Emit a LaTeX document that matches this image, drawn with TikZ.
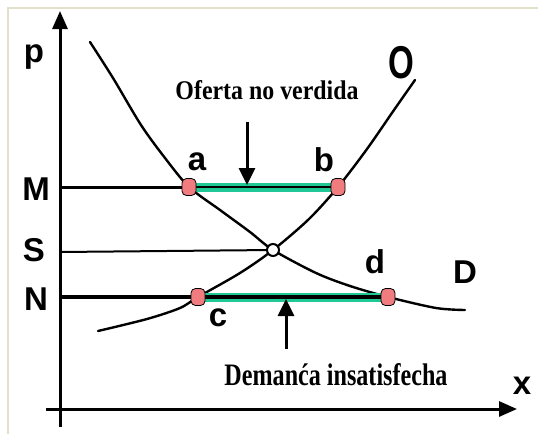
\documentclass[tikz,border=0pt]{standalone}
\usepackage{fontspec}
\setmainfont{Liberation Serif}
\setsansfont{Liberation Sans}
\usetikzlibrary{arrows.meta}
\definecolor{frameC}{RGB}{226,223,202}
\definecolor{barG}{RGB}{32,200,150}
\definecolor{ptPink}{RGB}{240,124,128}
\tikzset{
  axis/.style={line width=3pt,-{Triangle[length=18pt,width=15pt]}},
  curve/.style={line width=2.4pt,line join=round,line cap=round},
  level/.style={line width=3pt},
  gbar/.style={line width=9pt,barG},
  kbar/.style={line width=2.5pt,black},
  marker/.style={draw=black,line width=0.8pt,fill=ptPink,rounded corners=4.5pt,minimum width=14pt,minimum height=17pt,inner sep=0pt},
  eqpt/.style={circle,draw=black,line width=2pt,fill=white,minimum size=12pt,inner sep=0pt},
  lab/.style={font=\sffamily\bfseries\fontsize{33}{33}\selectfont,inner sep=0pt},
  pointer/.style={line width=3pt,-{Triangle[length=17pt,width=16pt]}},
}
\begin{document}
\begin{tikzpicture}[x=1pt,y=-1pt]
\useasboundingbox (0,0) rectangle (538,434);
\fill[white] (0,0) rectangle (538,434);
\draw[frameC,line width=2pt] (7.5,434) -- (7.5,7.5) -- (538,7.5);

% axes
\coordinate (ybot) at (60,427);
\coordinate (ytop) at (60,11);
\coordinate (xleft) at (46,409);
\coordinate (xright) at (517,409);
\draw[axis] (ybot) -- (ytop);
\draw[axis] (xleft) -- (xright);

% axis labels
\node[lab] (p) at (34,57) {p};
\node[lab] (x) at (522,386) {x};
\node[lab] (M) at (36,189) {M};
\node[lab] (S) at (34,250) {S};
\node[lab] (N) at (36,299) {N};
\node[lab,font=\sffamily\bfseries\fontsize{46}{46}\selectfont,xscale=0.72] (O) at (401,63) {O};
\node[lab] (D) at (465,272) {D};

% key points
\coordinate (pa) at (189,187);
\coordinate (pb) at (338,187);
\coordinate (pe) at (273,250);
\coordinate (pc) at (198,297);
\coordinate (pd) at (388,297);
\coordinate (yM) at (60,187);
\coordinate (yS) at (60,252);
\coordinate (yN) at (60,297);

% curves
\draw[curve] plot[smooth,tension=0.5] coordinates {(90,42) (113,78) (141,125) (165,158) (189,187) (220,210) (250,232) (273,250) (316,273) (350,286) (388,297) (436,308) (465,310)};
\draw[curve] plot[smooth,tension=0.5] coordinates {(98,331) (147,319) (180,308) (198,297) (240,273) (273,250) (309,219) (338,187) (367,149) (394,110) (415,80)};

% level lines
\draw[level] (yM) -- (pa);
\draw[line width=2pt] (yS) -- (pe);
\draw[line width=4pt] (yN) -- (pc);

% bars
\draw[gbar] (pa) -- (pb);
\draw[kbar,line width=2pt] (pa) -- (pb);
\draw[gbar] (pc) -- (pd);
\draw[kbar,line width=3.5pt] (pc) -- (pd);

% markers
\node[marker] (a) at (pa) {};
\node[marker] (b) at (pb) {};
\node[marker] (c) at (pc) {};
\node[marker] (d) at (pd) {};
\node[eqpt] (e) at (pe) {};

\node[lab] (la) at (197,162) {a};
\node[lab] (lb) at (324,160) {b};
\node[lab] (lc) at (218,318) {c};
\node[lab] (ld) at (375,262) {d};

% annotations
\node[inner sep=0pt] (t1) at (267,90) {\resizebox{183pt}{19pt}{\bfseries Oferta no verdida}};
\node[inner sep=0pt] (t2) at (336,375) {\resizebox{223pt}{22pt}{\bfseries Demanća insatisfecha}};
\coordinate (ar1s) at (247,122);
\coordinate (ar1e) at (247,185);
\coordinate (ar2s) at (286,349);
\coordinate (ar2e) at (286,299);
\draw[pointer] (ar1s) -- (ar1e);
\draw[pointer] (ar2s) -- (ar2e);
\end{tikzpicture}
\end{document}
